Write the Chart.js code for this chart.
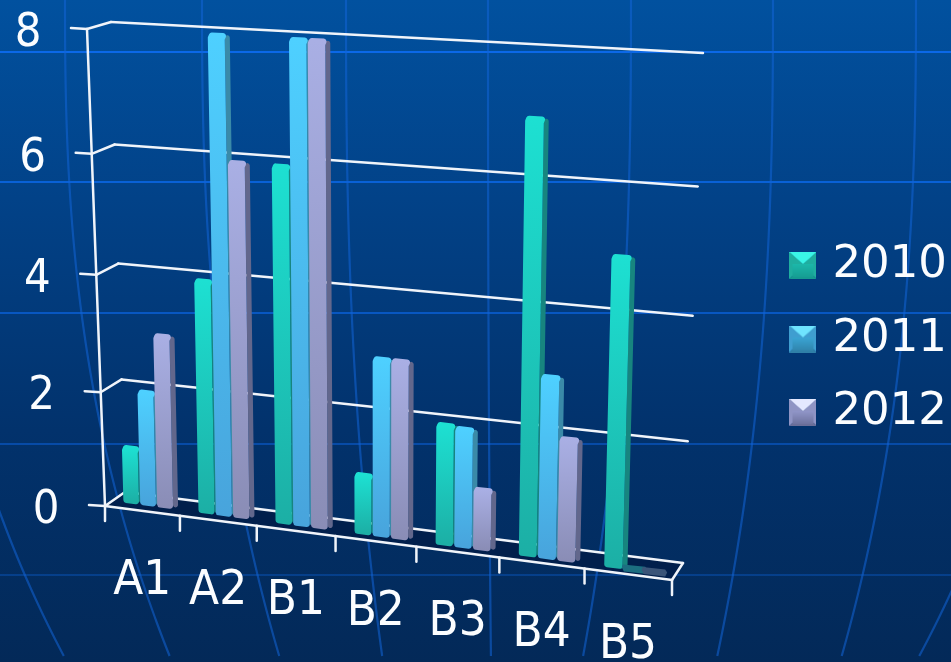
<!DOCTYPE html>
<html><head><meta charset="utf-8">
<style>html,body{margin:0;padding:0;background:#02356f;overflow:hidden}canvas{display:block;filter:blur(.6px)}</style>
<script src="https://cdn.jsdelivr.net/npm/chart.js@4/dist/chart.umd.min.js"></script>
</head><body><canvas id="c" width="951" height="662"></canvas>
<script>
const categories = ['A1','A2','B1','B2','B3','B4','B5'];
const seriesNames = ['2010','2011','2012'];
const values2010 = [0.97,3.97,5.97,1,2,7,4.97];
const values2011 = [1.97,8,8,2.97,1.97,2.97,0];
const values2012 = [2.97,5.97,8,2.97,1,2,0];
const yTicks = [0,2,4,6,8];

const FONT = '"DejaVu Sans"';
const palette = [
  {top:'#1de0d2',bottom:'#1cafa5',side:'#17857f',flat:'#1c6e80',sw:['#3af5e6','#1fc4b4','#159a90','#1fae9f']},
  {top:'#4ed0ff',bottom:'#48a4dc',side:'#3a8aa8',flat:'#1c6e80',sw:['#6fe4ff','#3fb4e6','#2f80a8','#3f9ed0']},
  {top:'#a9afe4',bottom:'#8a8db6',side:'#62678c',flat:'#3a5478',sw:['#e4e8ff','#a0a6dc','#6a6e98','#8f94c4']}
];

// perspective planes: corners for (u,v) = (0,0),(1,0),(1,1),(0,1)
function homography(q){
  const [[x0,y0],[x1,y1],[x2,y2],[x3,y3]] = q;
  const dx1=x1-x2,dx2=x3-x2,sx=x0-x1+x2-x3,dy1=y1-y2,dy2=y3-y2,sy=y0-y1+y2-y3;
  const den=dx1*dy2-dx2*dy1;
  const g=(sx*dy2-dx2*sy)/den,h=(dx1*sy-sx*dy1)/den;
  const a=x1-x0+g*x1,b=x3-x0+h*x3,d=y1-y0+g*y1,e=y3-y0+h*y3;
  return (u,v)=>{const w=g*u+h*v+1;return [(a*u+b*v+x0)/w,(d*u+e*v+y0)/w];};
}
const barPlane  = homography([[111,501],[677,576.5],[693,62],[98,29.4]]);
const backWall  = homography([[125,492],[683,563],[703,53],[111,22]]);
const frontWall = homography([[105,506],[672,580],[692,60],[87,29]]);

const meridianTop = [-75,65,202,346,488,631,773,916,1060];
const meridianBottom = [67,172,281,383,491,582,716,840,916];
const parallels = [52,182,313,444,575];

function backdrop(ctx,W,H){
  const g=ctx.createLinearGradient(0,0,0,H);
  g.addColorStop(0,'#01519f');g.addColorStop(.3,'#024288');
  g.addColorStop(.65,'#02326c');g.addColorStop(1,'#032958');
  ctx.fillStyle=g;ctx.fillRect(0,0,W,H);
  ctx.lineWidth=2.2;
  parallels.forEach((y,i)=>{
    ctx.strokeStyle=`rgba(12,105,235,${.95-i*.16})`;
    ctx.beginPath();ctx.moveTo(0,y);ctx.lineTo(W,y);ctx.stroke();
  });
  ctx.strokeStyle='rgba(18,100,215,.55)';
  meridianTop.forEach((t,i)=>{
    const b=meridianBottom[i];
    ctx.beginPath();
    for(let y=0;y<=H;y+=8){const x=t+(b-t)*Math.pow(y/H,2.5);y?ctx.lineTo(x,y):ctx.moveTo(x,y);}
    ctx.stroke();
  });
}
function roundedPoly(ctx,pts,r){
  const n=pts.length;
  const mid=(a,b)=>[(a[0]+b[0])/2,(a[1]+b[1])/2];
  const s=mid(pts[n-1],pts[0]);
  ctx.beginPath();ctx.moveTo(s[0],s[1]);
  pts.forEach((p,i)=>{const nx=pts[(i+1)%n];ctx.arcTo(p[0],p[1],nx[0],nx[1],r);});
  ctx.closePath();
}
function poly(ctx,pts){ctx.beginPath();pts.forEach((p,i)=>i?ctx.lineTo(p[0],p[1]):ctx.moveTo(p[0],p[1]));ctx.closePath();}
function seg(ctx,a,b){ctx.beginPath();ctx.moveTo(a[0],a[1]);ctx.lineTo(b[0],b[1]);ctx.stroke();}
function tallText(ctx,s,x,y){
  ctx.save();ctx.translate(x,y);ctx.scale(1,1.08);ctx.fillText(s,0,0);ctx.restore();
}

function swatch(p){
  const c=document.createElement('canvas');c.width=27;c.height=27;
  const x=c.getContext('2d'),m=[13.5,12];
  const tri=(a,b,col)=>{x.fillStyle=col;x.beginPath();x.moveTo(a[0],a[1]);x.lineTo(b[0],b[1]);x.lineTo(m[0],m[1]);x.closePath();x.fill();};
  tri([0,0],[27,0],p.sw[0]);tri([27,0],[27,27],p.sw[3]);tri([27,27],[0,27],p.sw[2]);tri([0,27],[0,0],p.sw[3]);
  const g=x.createLinearGradient(0,6,0,27);g.addColorStop(0,p.sw[1]);g.addColorStop(1,p.sw[2]);
  x.fillStyle=g;x.fillRect(3,12,21,13);
  tri([0,0],[27,0],p.sw[0]);
  return c;
}

const perspective = {
  id:'perspective',
  beforeDraw(chart){ backdrop(chart.ctx,chart.width,chart.height); },
  beforeDatasetsDraw(chart){
    const ctx=chart.ctx,ca=chart.chartArea,ys=chart.scales.y,xs=chart.scales.x;
    const U=x=>(x-ca.left)/(ca.right-ca.left), V=y=>(ca.bottom-y)/(ca.bottom-ca.top);
    ctx.save();
    ctx.fillStyle='#011f4c';
    poly(ctx,[frontWall(0,0),backWall(0,0),backWall(1,0),frontWall(1,0)]);ctx.fill();
    ctx.strokeStyle='#f0f4fa';ctx.lineWidth=2.5;ctx.lineCap='round';
    yTicks.forEach(t=>{
      const v=V(ys.getPixelForValue(t));
      const f=frontWall(0,v),b=backWall(0,v);
      seg(ctx,b,backWall(1,v));
      seg(ctx,f,b);
      seg(ctx,[f[0]-16,f[1]-1],f);
    });
    seg(ctx,frontWall(0,0),frontWall(0,1));
    seg(ctx,frontWall(0,0),frontWall(1,0));
    seg(ctx,frontWall(1,0),backWall(1,0));
    for(let i=0;i<=categories.length;i++){
      const p=frontWall(i/categories.length,0);
      seg(ctx,p,[p[0],p[1]+15]);
    }
    const D=[5,-3];
    chart.data.datasets.forEach((ds,di)=>{
      const pal=palette[di];
      chart.getDatasetMeta(di).data.forEach(el=>{
        const hw=el.width/2;
        const a=barPlane(U(el.x-hw),V(el.y)),b=barPlane(U(el.x+hw),V(el.y));
        const c=barPlane(U(el.x+hw),V(el.base)),d=barPlane(U(el.x-hw),V(el.base));
        if(Math.abs(el.base-el.y)<1){
          ctx.fillStyle=pal.flat;
          poly(ctx,[[d[0]-1,d[1]-5],[c[0]+3,c[1]-5],[c[0]+5,c[1]-2],[c[0]+3,c[1]+2],[d[0],d[1]+2],[d[0]-2,d[1]-2]]);ctx.fill();
          return;
        }
        const s=p=>[p[0]+D[0],p[1]+D[1]];
        ctx.fillStyle=pal.side;
        roundedPoly(ctx,[[b[0],b[1]],s(b),s(c),c],2.5);ctx.fill();
        const g=ctx.createLinearGradient(0,a[1],0,d[1]);
        g.addColorStop(0,pal.top);g.addColorStop(1,pal.bottom);
        ctx.fillStyle=g;
        roundedPoly(ctx,[[a[0]+2,a[1]-3],[b[0]+3,b[1]-3],[b[0],b[1]+3],c,d,[a[0],a[1]+2]],3);ctx.fill();
      });
    });
    ctx.fillStyle='#fbfdff';ctx.textBaseline='middle';ctx.textAlign='center';
    ctx.font='42px '+FONT;
    yTicks.forEach(t=>{
      const f=frontWall(0,V(ys.getPixelForValue(t)));
      tallText(ctx,String(t),f[0]-59,f[1]+5.5);
    });
    ctx.font='44px '+FONT;
    categories.forEach((n,i)=>{
      const p=frontWall(U(xs.getPixelForValue(i)),0);
      tallText(ctx,n,p[0],p[1]+71);
    });
    ctx.restore();
    return false;
  }
};

const swatches = palette.map(swatch);
new Chart(document.getElementById('c'),{
  type:'bar',
  data:{labels:categories,datasets:[
    {label:seriesNames[0],data:values2010,backgroundColor:palette[0].top},
    {label:seriesNames[1],data:values2011,backgroundColor:palette[1].top},
    {label:seriesNames[2],data:values2012,backgroundColor:palette[2].top}
  ]},
  options:{
    responsive:false,animation:false,devicePixelRatio:1,
    layout:{padding:{top:16,right:-6}},
    datasets:{bar:{categoryPercentage:.68,barPercentage:.93}},
    scales:{
      x:{ticks:{display:false},grid:{display:false},border:{display:false}},
      y:{min:0,max:8,ticks:{display:false,stepSize:2},grid:{display:false},border:{display:false}}
    },
    plugins:{
      tooltip:{enabled:false},
      legend:{position:'right',labels:{
        color:'#fbfdff',font:{family:FONT,size:45},boxWidth:14,padding:28.5,usePointStyle:true,
        generateLabels:c=>c.data.datasets.map((d,i)=>({text:d.label,fontColor:'#fbfdff',pointStyle:swatches[i],datasetIndex:i,lineWidth:0,strokeStyle:'transparent',fillStyle:'transparent'}))
      }}
    }
  },
  plugins:[perspective]
});
</script></body></html>
